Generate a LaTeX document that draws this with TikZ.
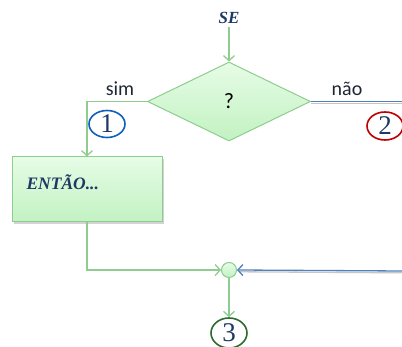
\documentclass[tikz,border=0pt]{standalone}
\usepackage{fontspec}
\setmainfont{Liberation Serif}
\setsansfont{Carlito}
\usetikzlibrary{shapes.geometric,arrows.meta,shadows}
\definecolor{flowgreen}{HTML}{8FCC8F}
\definecolor{boxtop}{HTML}{E6FCE6}
\definecolor{boxbot}{HTML}{C2F2C2}
\definecolor{navy}{HTML}{1F3864}
\definecolor{lineblue}{HTML}{4F81BD}
\definecolor{ringblue}{HTML}{0F5DBF}
\definecolor{ringred}{HTML}{C00000}
\definecolor{ringgreen}{HTML}{2E6B2E}
\definecolor{labelgray}{HTML}{1E2633}

\begin{document}
\begin{tikzpicture}
[x=1pt, y=-1pt,
 >={Straight Barb[length=5pt,width=11pt]},
 flow/.style={draw=flowgreen, line width=1.3pt},
 decision/.style={diamond, draw=flowgreen, line width=1pt, top color=boxtop, bottom color=boxbot, minimum width=163pt, minimum height=79pt, inner sep=0pt, font=\sffamily\fontsize{22}{22}\selectfont},
 block/.style={rectangle, draw=flowgreen, line width=1pt, top color=boxtop, bottom color=boxbot, minimum width=150pt, minimum height=65pt, drop shadow={shadow xshift=1.5pt, shadow yshift=-2pt, opacity=0.35}},
 ring/.style={ellipse, draw=#1, line width=1.6pt, fill=white, minimum width=36pt, minimum height=27pt, inner sep=0pt, text=navy, font=\fontsize{27}{27}\selectfont},
 branch/.style={text=labelgray, font=\sffamily\fontsize{20}{20}\selectfont}]

\useasboundingbox (0,0) rectangle (402,347);

\node (se) at (229,18) [text=navy, font=\bfseries\itshape\fontsize{17}{17}\selectfont] {SE};
\node (cond) at (229,101.5) [decision] {?};
\node (sim) at (120,89) [branch] {sim};
\node (nao) at (347,89) [branch] {não};
\node (entao) at (87,189.5) [block] {};
\node (entaotxt) at (23,182) [anchor=west, text=navy, font=\bfseries\itshape\fontsize{17.5}{17.5}\selectfont] {ENTÃO...};
\node (jn) at (229,270) [circle, draw=flowgreen, line width=1pt, top color=boxtop, bottom color=boxbot, minimum size=15pt, inner sep=0pt] {};
\node (c1) at (107,124) [ring=ringblue] {1};
\node (c2) at (385,126) [ring=ringred, minimum height=28pt] {2};
\node (c3) at (229,333) [ring=ringgreen, minimum height=30pt] {3};
\coordinate (naoend) at (402,101.5);
\coordinate (retstart) at (402,271);

\draw [->, flow] (se) -- (cond.north);
\draw [->, flow] (cond.west) -| (entao.north);
\draw [gray!45, line width=1.3pt] ([yshift=-1.8pt]cond.east) -- ([yshift=-1.8pt]naoend);
\draw [lineblue, line width=1.3pt] (cond.east) -- (naoend);
\draw [->, flow] (entao.south) |- (jn.west);
\draw [gray!45, line width=1.3pt] ([yshift=-1.8pt]retstart) -- ([yshift=-1.8pt,xshift=3pt]jn.east);
\draw [->, lineblue, line width=1.3pt] (retstart) -- (jn.east);
\draw [->, flow] (jn.south) -- (c3.north);
\end{tikzpicture}
\end{document}
